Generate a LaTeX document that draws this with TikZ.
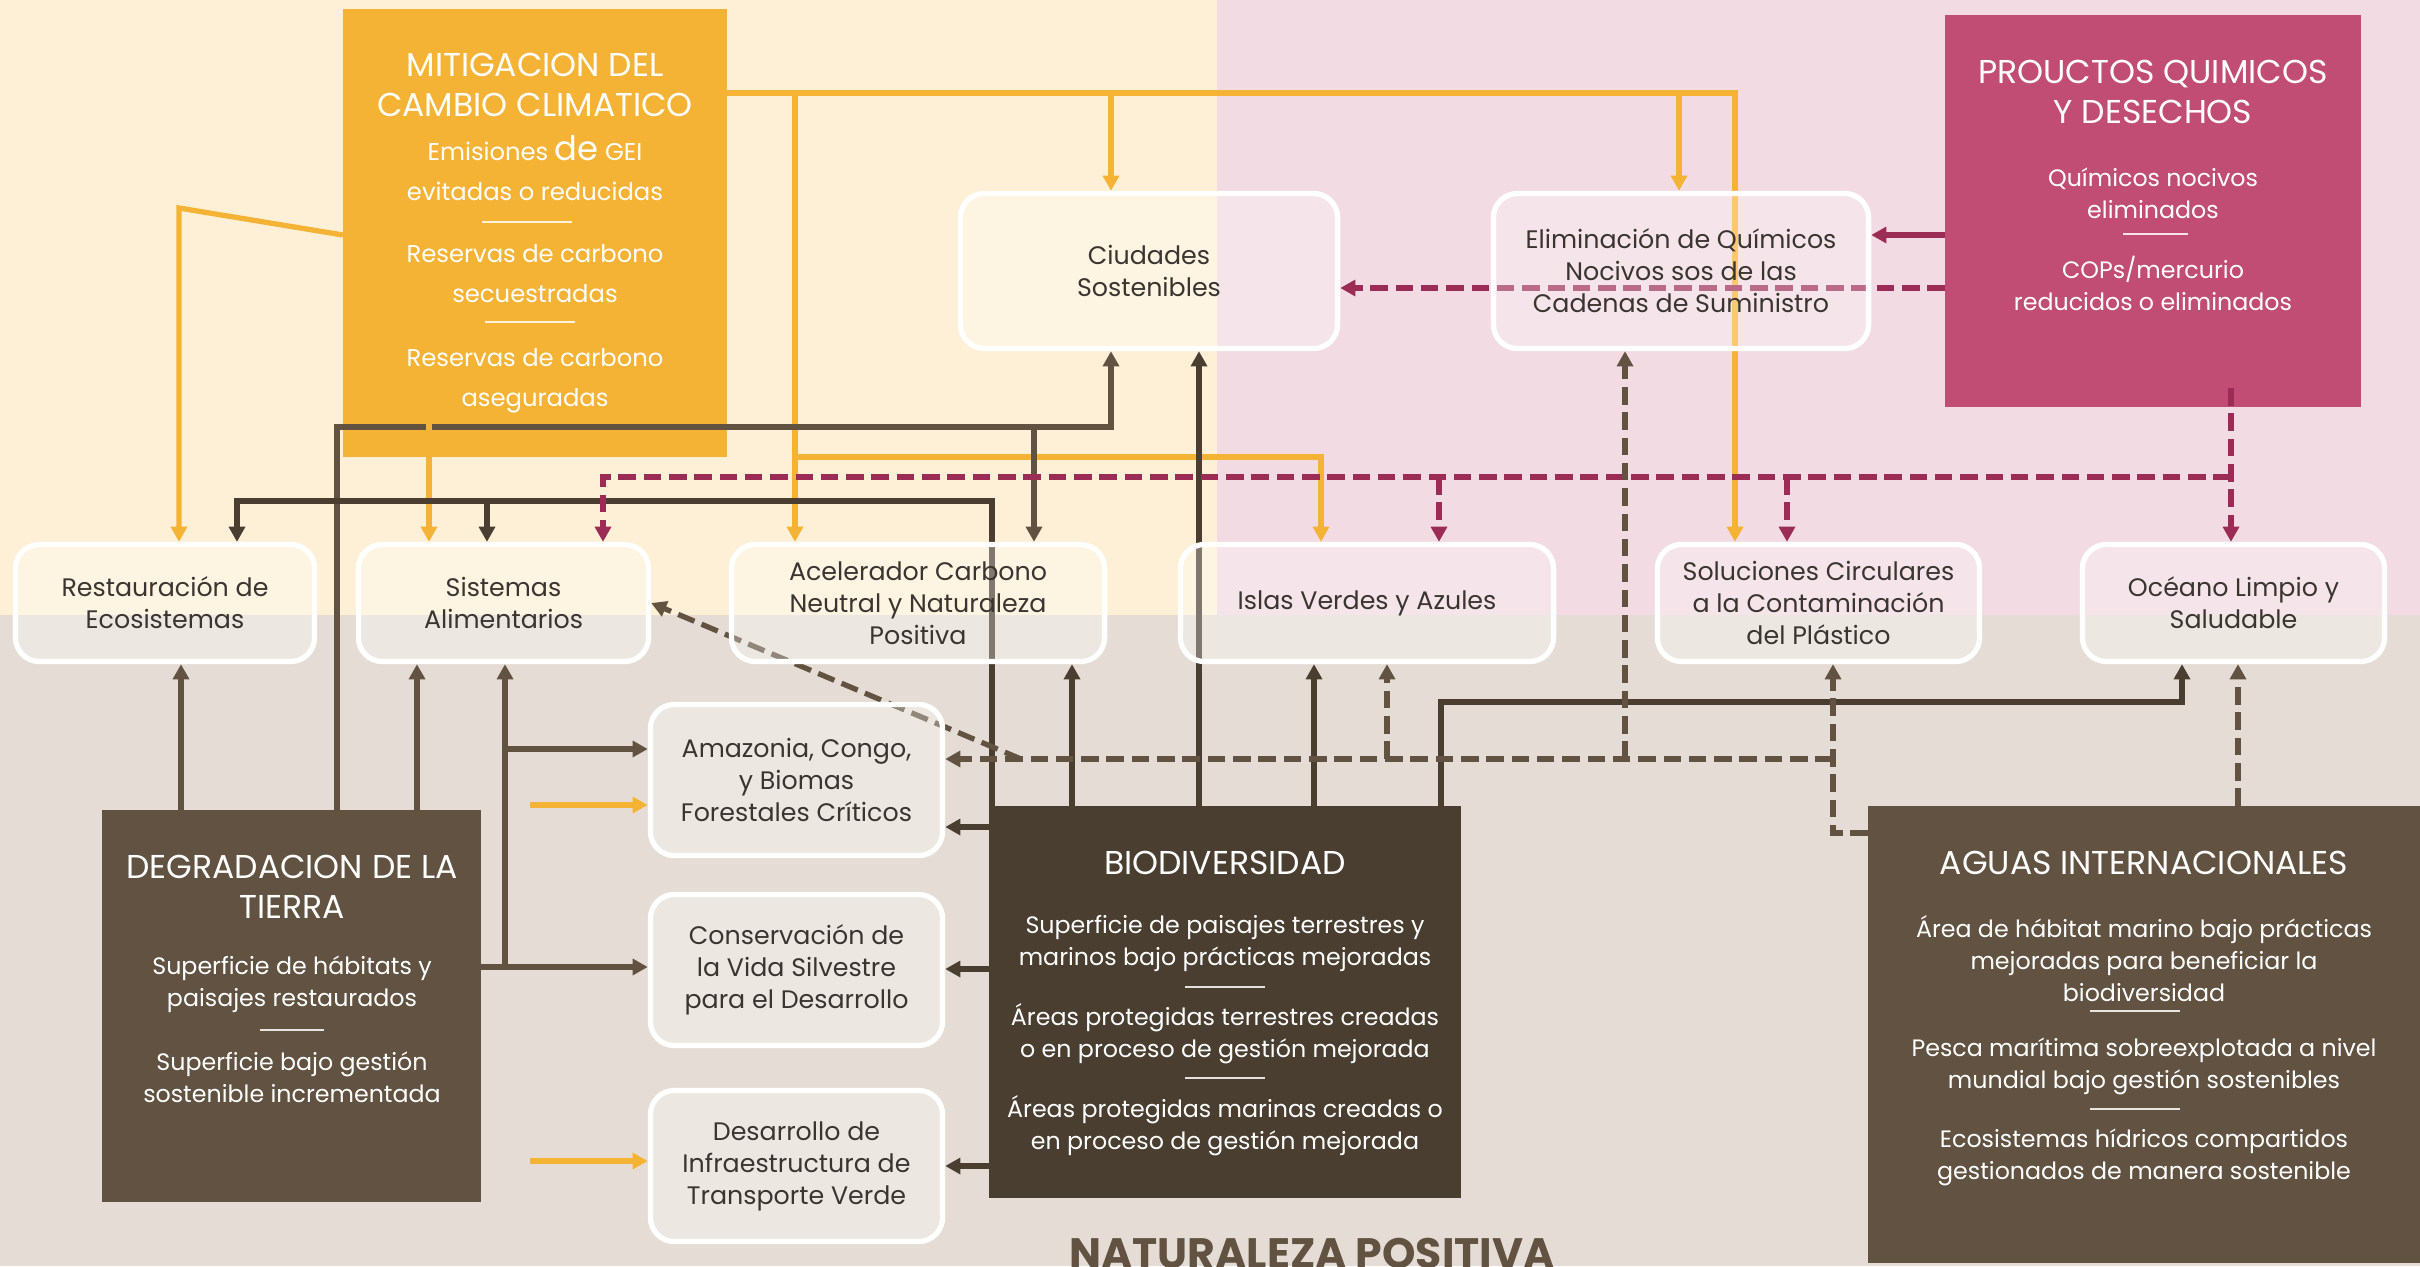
\documentclass[tikz,border=0pt]{standalone}
\usepackage{fontspec}
\setmainfont{Poppins}
\usepackage{xcolor}
\usetikzlibrary{arrows.meta}

\definecolor{crema}{HTML}{FEF0D6}
\definecolor{rosa}{HTML}{F2DBE3}
\definecolor{gris}{HTML}{E5DDD5}
\definecolor{naranja}{HTML}{F5B335}
\definecolor{rosaFuerte}{HTML}{C24D74}
\definecolor{vino}{HTML}{9B2C55}
\definecolor{cafe}{HTML}{615241}
\definecolor{cafeOscuro}{HTML}{4A3E31}
\definecolor{texto}{HTML}{3A3530}

\pgfdeclarelayer{fondo}
\pgfdeclarelayer{lineas}
\pgfsetlayers{fondo,lineas,main}

\tikzset{
  punta/.style={-{Triangle[length=4.3pt,width=4.5pt]}},
  meta/.style={rectangle, inner sep=0pt, outer sep=0pt},
  caja/.style={rectangle, rounded corners=0.24cm, draw=white, line width=1.5pt,
    fill=white, fill opacity=0.3, text opacity=1, text=texto, align=center,
    inner sep=0pt, font=\fontsize{7.2}{9.1}\selectfont},
  titulo/.style={text=white, align=center, font=\fontsize{9.4}{11.4}\selectfont},
  indicador/.style={text=white, align=center, font=\fontsize{6.75}{9.1}\selectfont},
  separador/.style={draw=white, draw opacity=0.85, line width=0.6pt},
  flechaN/.style={draw=naranja, line width=1.5pt, punta},
  flechaC/.style={draw=cafe, line width=1.5pt, punta},
  flechaB/.style={draw=cafeOscuro, line width=1.5pt, punta},
  flechaM/.style={draw=vino, line width=1.5pt, punta},
  trazoM/.style={flechaM, dash pattern=on 5pt off 2.2pt},
  trazoC/.style={flechaC, dash pattern=on 5pt off 2.2pt}
}

\begin{document}
\begin{tikzpicture}[x=0.01cm, y=-0.01cm]
  \clip (0,0) rectangle (2420,1266);

  % Fondos y cajas de color
  \begin{pgfonlayer}{fondo}
    \fill[crema] (0,0) rectangle (1217,615);
    \fill[rosa] (1217,0) rectangle (2420,615);
    \fill[gris] (0,615) rectangle (2420,1266);
    \node[meta, fill=naranja, minimum width=3.84cm, minimum height=4.48cm] (mitigacion) at (535,233) {};
    \node[meta, fill=rosaFuerte, minimum width=4.16cm, minimum height=3.92cm] (quimicos) at (2153,211) {};
    \node[meta, fill=cafe, minimum width=3.79cm, minimum height=3.92cm] (degradacion) at (291.5,1006) {};
    \node[meta, fill=cafeOscuro, minimum width=4.72cm, minimum height=3.92cm] (biodiversidad) at (1225,1002) {};
    \node[meta, fill=cafe, minimum width=5.52cm, minimum height=4.57cm] (aguas) at (2144,1034.5) {};
  \end{pgfonlayer}

  % Textos de Mitigación
  \node[titulo] (titMitigacion) at (535,84.5) {MITIGACION DEL\\CAMBIO CLIMATICO};
  \node[indicador, font=\fontsize{6.9}{11.4}\selectfont] (indMitigacion1) at (535,168)
    {Emisiones {\fontsize{9.6}{11.4}\selectfont de} GEI\\evitadas o reducidas};
  \node[indicador, font=\fontsize{6.9}{11.4}\selectfont] (indMitigacion2) at (535,274) {Reservas de carbono\\secuestradas};
  \node[indicador, font=\fontsize{6.9}{11.4}\selectfont] (indMitigacion3) at (535,381) {Reservas de carbono\\aseguradas};
  \draw[separador] (482,222) -- (572,222);
  \draw[separador] (485,322) -- (575,322);

  % Textos de Productos Químicos
  \node[titulo] (titQuimicos) at (2153,92) {PROUCTOS QUIMICOS\\Y DESECHOS};
  \node[indicador] (indQuimicos1) at (2153,193) {Químicos nocivos\\eliminados};
  \node[indicador] (indQuimicos2) at (2153,283) {COPs/mercurio\\reducidos o eliminados};
  \draw[separador] (2123,234) -- (2188,234);

  % Textos de Degradación
  \node[titulo] (titDegradacion) at (292,886.5) {DEGRADACION DE LA\\TIERRA};
  \node[indicador] (indDegradacion1) at (292,984.5) {Superficie de hábitats y\\paisajes restaurados};
  \node[indicador] (indDegradacion2) at (292,1077) {Superficie bajo gestión\\sostenible incrementada};
  \draw[separador] (260,1030) -- (324,1030);

  % Textos de Biodiversidad
  \node[titulo] (titBiodiversidad) at (1225,863) {BIODIVERSIDAD};
  \node[indicador] (indBiodiversidad1) at (1225,944) {Superficie de paisajes terrestres y\\marinos bajo prácticas mejoradas};
  \node[indicador] (indBiodiversidad2) at (1225,1034) {Áreas protegidas terrestres creadas\\o en proceso de gestión mejorada};
  \node[indicador] (indBiodiversidad3) at (1225,1125.5) {Áreas protegidas marinas creadas o\\en proceso de gestión mejorada};
  \draw[separador] (1185,987) -- (1265,987);
  \draw[separador] (1185,1078) -- (1265,1078);

  % Textos de Aguas Internacionales
  \node[titulo] (titAguas) at (2144,863) {AGUAS INTERNACIONALES};
  \node[indicador] (indAguas1) at (2144,959) {Área de hábitat marino bajo prácticas\\mejoradas para beneficiar la\\biodiversidad};
  \node[indicador] (indAguas2) at (2144,1066.5) {Pesca marítima sobreexplotada a nivel\\mundial bajo gestión sostenibles};
  \node[indicador] (indAguas3) at (2144,1157) {Ecosistemas hídricos compartidos\\gestionados de manera sostenible};
  \draw[separador] (2090,1011) -- (2180,1011);
  \draw[separador] (2090,1109) -- (2180,1109);

  % Cajas de resultados
  \node[caja, minimum width=3.77cm, minimum height=1.55cm] (ciudades) at (1149,271) {Ciudades\\Sostenibles};
  \node[caja, minimum width=3.75cm, minimum height=1.55cm] (eliminacion) at (1681,271)
    {Eliminación de Químicos\\Nocivos sos de las\\Cadenas de Suministro};
  \node[caja, minimum width=2.99cm, minimum height=1.17cm] (restauracion) at (165,603) {Restauración de\\Ecosistemas};
  \node[caja, minimum width=2.90cm, minimum height=1.17cm] (sistemas) at (503.5,603) {Sistemas\\Alimentarios};
  \node[caja, minimum width=3.73cm, minimum height=1.17cm] (acelerador) at (918,603)
    {Acelerador Carbono\\Neutral y Naturaleza\\Positiva};
  \node[caja, minimum width=3.73cm, minimum height=1.17cm] (islas) at (1367,603) {Islas Verdes y Azules};
  \node[caja, minimum width=3.22cm, minimum height=1.17cm] (soluciones) at (1818.5,603)
    {Soluciones Circulares\\a la Contaminación\\del Plástico};
  \node[caja, minimum width=3.02cm, minimum height=1.17cm] (oceano) at (2233.5,603) {Océano Limpio y\\Saludable};
  \node[caja, minimum width=2.92cm, minimum height=1.51cm] (amazonia) at (796.5,780)
    {Amazonia, Congo,\\y Biomas\\Forestales Críticos};
  \node[caja, minimum width=2.92cm, minimum height=1.51cm] (conservacion) at (796.5,970)
    {Conservación de\\la Vida Silvestre\\para el Desarrollo};
  \node[caja, minimum width=2.92cm, minimum height=1.51cm] (desarrollo) at (796.5,1166)
    {Desarrollo de\\Infraestructura de\\Transporte Verde};

  % Titulo inferior
  \node[anchor=base, text=cafe, font=\bfseries\fontsize{12.1}{13}\selectfont] (naturaleza) at (1312,1268) {NATURALEZA POSITIVA};

  % Conectores
  \begin{pgfonlayer}{lineas}
    % Flechas naranjas
    \draw[flechaN] (mitigacion.east |- 0,93) -| (1735,0 |- soluciones.north);
    \draw[flechaN] (1111,93) -- (1111,0 |- ciudades.north);
    \draw[flechaN] (1679,93) -- (1679,0 |- eliminacion.north);
    \draw[flechaN] (795,93) -- (795,0 |- acelerador.north);
    \draw[flechaN] (795,457) -| (1321,0 |- islas.north);
    \draw[flechaN] (mitigacion.west |- 0,235) -- (179,208) -- (179,0 |- restauracion.north);
    \coordinate (entradaAmazonia) at (530,805);
    \coordinate (entradaDesarrollo) at (530,1161);
    \draw[flechaN] (entradaAmazonia) -- (amazonia.west |- entradaAmazonia);
    \draw[flechaN] (entradaDesarrollo) -- (desarrollo.west |- entradaDesarrollo);

    % Flechas desde Degradación
    \draw[flechaC] (181,0 |- degradacion.north) -- (181,0 |- restauracion.south);
    \draw[flechaC] (417,0 |- degradacion.north) -- (417,0 |- sistemas.south);
    \draw[flechaC] (337,0 |- degradacion.north) |- (1111,427) -- (1111,0 |- ciudades.south);
    \draw[flechaC] (1034,427) -- (1034,0 |- acelerador.north);
    \draw[flechaC] (degradacion.east |- 0,967) -- (conservacion.west |- 0,967);
    \draw[flechaC] (505,967) -- (505,0 |- sistemas.south);
    \draw[flechaC] (505,749) -- (amazonia.west |- 0,749);
    \draw[flechaN] (429,400) -- (429,0 |- sistemas.north);

    % Flechas desde Biodiversidad
    \draw[flechaB] (992,0 |- biodiversidad.north) |- (237,501) -- (237,0 |- restauracion.north);
    \draw[flechaB] (487,501) -- (487,0 |- sistemas.north);
    \draw[flechaB] (1072,0 |- biodiversidad.north) -- (1072,0 |- acelerador.south);
    \draw[flechaB] (1199,0 |- biodiversidad.north) -- (1199,0 |- ciudades.south);
    \draw[flechaB] (1314,0 |- biodiversidad.north) -- (1314,0 |- islas.south);
    \draw[flechaB] (1441,0 |- biodiversidad.north) |- (2182,702) -- (2182,0 |- oceano.south);
    \draw[flechaB] (biodiversidad.west |- 0,827) -- (amazonia.east |- 0,827);
    \draw[flechaB] (biodiversidad.west |- 0,969) -- (conservacion.east |- 0,969);
    \draw[flechaB] (biodiversidad.west |- 0,1166) -- (desarrollo.east |- 0,1166);

    % Flechas desde Productos Químicos
    \draw[flechaM] (quimicos.west |- 0,235) -- (eliminacion.east |- 0,235);
    \draw[trazoM] (quimicos.west |- 0,288) -- (ciudades.east |- 0,288);
    \draw[trazoM] (2231,388) -- (2231,0 |- oceano.north);
    \draw[trazoM] (2231,477) -| (603,0 |- sistemas.north);
    \draw[trazoM] (1439,477) -- (1439,0 |- islas.north);
    \draw[trazoM] (1787,477) -- (1787,0 |- soluciones.north);

    % Flechas desde Aguas Internacionales
    \draw[trazoC] (2238,0 |- aguas.north) -- (2238,0 |- oceano.south);
    \draw[trazoC] (aguas.west |- 0,833) -| (1833,0 |- soluciones.south);
    \draw[trazoC] (1833,759) -- (amazonia.east |- 0,759);
    \draw[trazoC] (1625,759) -- (1625,0 |- eliminacion.south);
    \draw[trazoC] (1387,759) -- (1387,0 |- islas.south);
    \draw[trazoC] (1021,759) -- (sistemas.east);
  \end{pgfonlayer}
\end{tikzpicture}
\end{document}
